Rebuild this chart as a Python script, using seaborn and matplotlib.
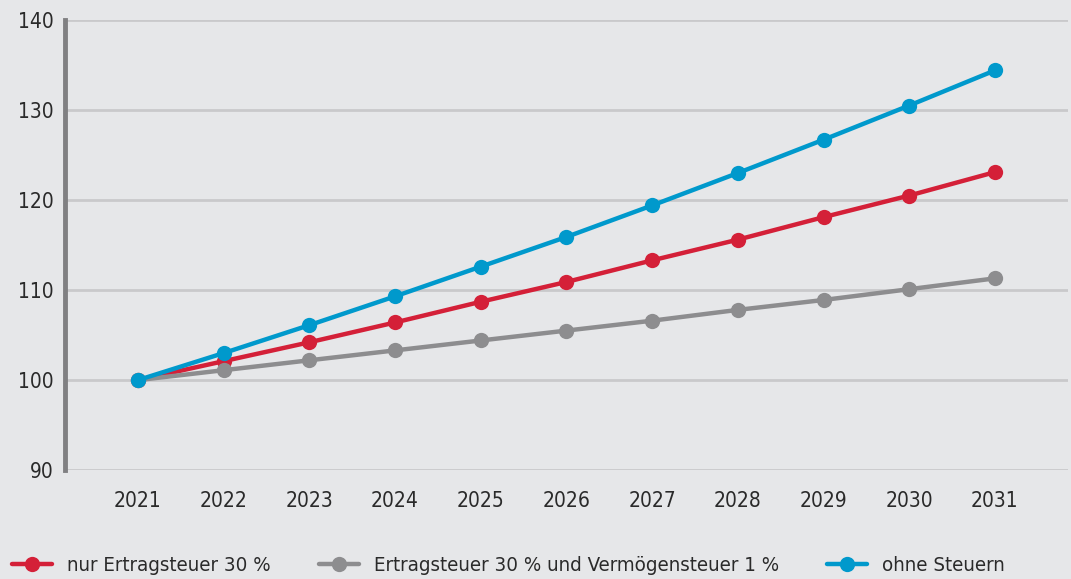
import pandas as pd
import numpy as np
import matplotlib.pyplot as plt
import seaborn as sns

jahre = ['2021', '2022', '2023', '2024', '2025', '2026', '2027', '2028', '2029', '2030', '2031']
nur_ertrag = [100, 102.1, 104.2, 106.4, 108.7, 110.9, 113.3, 115.6, 118.1, 120.5, 123.1]
ertrag_vermoegen = [100, 101.1, 102.2, 103.3, 104.4, 105.5, 106.6, 107.8, 108.9, 110.1, 111.3]
ohne_steuern = [100, 103.0, 106.1, 109.3, 112.6, 115.9, 119.4, 123.0, 126.7, 130.5, 134.4]
serien = ['nur Ertragsteuer 30 %', 'Ertragsteuer 30 % und Vermögensteuer 1 %', 'ohne Steuern']
farben = ['#d42038', '#8d8d8f', '#0099cc']

df = pd.DataFrame({
    'jahr': np.tile(np.arange(len(jahre)), 3),
    'wert': nur_ertrag + ertrag_vermoegen + ohne_steuern,
    'serie': np.repeat(serien, len(jahre)),
})

bg = '#e6e7e9'
sns.set_theme(style='white')
plt.rcParams['font.family'] = ['DejaVu Sans']
plt.rcParams['font.stretch'] = 'condensed'

fig = plt.figure(figsize=(10.71, 5.79), dpi=100, facecolor=bg)
ax = fig.add_axes([0.0607, 0.188, 0.9363, 0.7775])
ax.set_facecolor(bg)

# gridlines first so lines sit on top
for y in [90, 100, 110, 120, 130, 140]:
    ax.axhline(y, color='#c9c9cb', lw=2, zorder=0)

sns.lineplot(data=df, x='jahr', y='wert', hue='serie', hue_order=serien,
             palette=farben, marker='o', markersize=11, markeredgewidth=0,
             linewidth=3.2, ax=ax, zorder=3)

ax.set_xlim(-0.85, 10.85)
ax.set_ylim(90, 140)
ax.set_xticks(range(len(jahre)))
ax.set_xticklabels(jahre)
ax.set_yticks([90, 100, 110, 120, 130, 140])
ax.tick_params(axis='both', length=0, labelsize=15, colors='#2a2a2a')
ax.tick_params(axis='x', pad=15)
ax.tick_params(axis='y', pad=8)
ax.set_xlabel('')
ax.set_ylabel('')

for s in ['top', 'right', 'bottom']:
    ax.spines[s].set_visible(False)
ax.spines['left'].set_color('#808082')
ax.spines['left'].set_linewidth(3.5)

leg = ax.legend(loc='lower left', bbox_to_anchor=(-0.061, -0.252), ncol=3,
                frameon=False, fontsize=14.7, handlelength=1.95, columnspacing=2.35,
                handletextpad=0.75, borderaxespad=0)
for t in leg.get_texts():
    t.set_color('#2a2a2a')

fig.savefig('out.png', dpi=100, facecolor=bg)
